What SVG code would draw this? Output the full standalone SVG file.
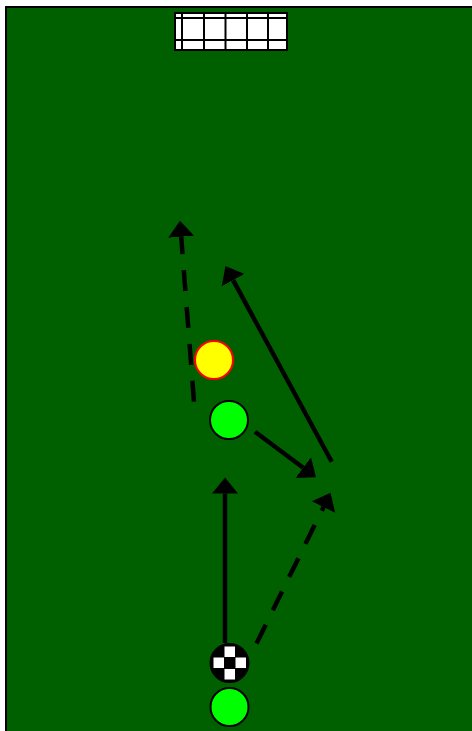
<svg xmlns="http://www.w3.org/2000/svg" width="472" height="731" viewBox="0 0 472 731">
<style>
.run{fill:none;stroke:#000;stroke-width:4.5;stroke-linecap:butt;marker-end:url(#ah)}
.dash{stroke-dasharray:21,16}
.net{stroke:#000;stroke-width:2}
.player{fill:#00ff00;stroke:#000;stroke-width:2}
</style>
<defs>
<marker id="ah" markerUnits="userSpaceOnUse" markerWidth="17" markerHeight="28" viewBox="0 -14 17 28" refX="0" refY="0" orient="auto">
<path d="M0,-13 L16,0 L0,13 z" fill="#000"/>
</marker>
</defs>
<rect id="field" x="6" y="7" width="480" height="740" fill="#006000" stroke="#000" stroke-width="2"/>
<g id="goal">
<rect x="175" y="13" width="112" height="37" fill="#fff" stroke="#000" stroke-width="2"/>
<line class="net" x1="182" y1="13" x2="182" y2="50"/>
<line class="net" x1="204" y1="13" x2="204" y2="50"/>
<line class="net" x1="225.5" y1="13" x2="225.5" y2="50"/>
<line class="net" x1="247" y1="13" x2="247" y2="50"/>
<line class="net" x1="268" y1="13" x2="268" y2="50"/>
<line class="net" x1="175" y1="18" x2="287" y2="18"/>
<line class="net" x1="175" y1="40" x2="287" y2="40"/>
</g>
<g id="connectors">
<line class="run" x1="225" y1="643" x2="225" y2="493.5"/>
<line class="run dash" x1="256.5" y1="643.5" x2="323.5" y2="507.1"/>
<line class="run" x1="255" y1="431.7" x2="303.2" y2="467.7"/>
<line class="run" x1="331.7" y1="461.7" x2="233.1" y2="280.1"/>
<line class="run dash" x1="194" y1="401.7" x2="181.2" y2="236.7"/>
</g>
<g id="defender">
<circle cx="214" cy="360" r="19" fill="#ffff00" stroke="#ff0000" stroke-width="2"/>
</g>
<g id="player1">
<circle class="player" cx="229" cy="420" r="19"/>
</g>
<g id="ball">
<circle cx="229.5" cy="663" r="19" fill="#000" stroke="#000" stroke-width="2"/>
<g fill="#fff">
<rect x="224.5" y="646.5" width="10.5" height="10.5"/>
<rect x="213.5" y="657.5" width="10.5" height="10.5"/>
<rect x="235.5" y="657.5" width="10.5" height="10.5"/>
<rect x="224.5" y="669" width="10.5" height="10.5"/>
</g>
</g>
<g id="player2">
<circle class="player" cx="229.5" cy="707" r="19"/>
</g>
</svg>
